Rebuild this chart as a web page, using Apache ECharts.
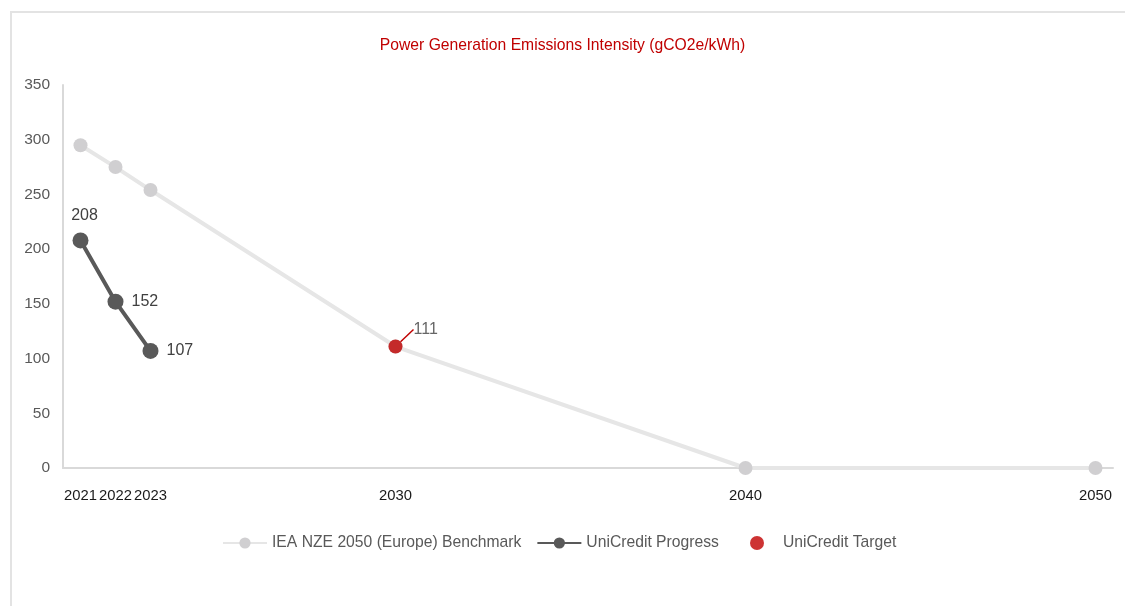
<!DOCTYPE html>
<html>
<head>
<meta charset="utf-8">
<script src="https://cdn.jsdelivr.net/npm/echarts@6/dist/echarts.min.js"></script>
<style>
  html, body { margin: 0; padding: 0; background: #fff; }
  .frame {
    position: absolute; left: 10px; top: 11px; width: 1115px; height: 595px;
    border-left: 2px solid #e3e3e3; border-top: 2px solid #e3e3e3;
  }
  #chart { position: absolute; left: 0; top: 0; width: 1125px; height: 606px; }
</style>
</head>
<body>
<div class="frame"></div>
<div id="chart"></div>
<script>
const benchYears = [2021, 2022, 2023, 2030, 2040, 2050]
const benchVals = [295, 275, 254, 111, 0, 0]
const progressYears = [2021, 2022, 2023]
const progressVals = [208, 152, 107]
const targetYears = [2030]
const targetVals = [111]
const xTickYears = [2021, 2022, 2023, 2030, 2040, 2050]

const font = 'Liberation Sans, Arial, sans-serif'
const chart = echarts.init(document.getElementById('chart'))

chart.setOption({
  animation: false,
  title: {
    text: 'Power Generation Emissions Intensity (gCO2e/kWh)',
    left: 'center',
    top: 33,
    textStyle: { color: '#c00000', fontFamily: font, fontSize: 15.7, fontWeight: 'normal' }
  },
  legend: [
    {
      data: ['IEA NZE 2050 (Europe) Benchmark', 'UniCredit Progress'],
      left: 217, top: 530,
      itemWidth: 44, itemHeight: 14, itemGap: 15,
      textStyle: { color: '#595959', fontFamily: font, fontSize: 15.7 }
    },
    {
      data: ['UniCredit Target'],
      left: 745, top: 530,
      icon: 'circle', itemWidth: 14, itemHeight: 14,
      textStyle: { color: '#595959', fontFamily: font, fontSize: 15.7, padding: [0, 0, 0, 14] }
    }
  ],
  grid: { left: 63, right: 12, top: 85, bottom: 138, containLabel: false },
  xAxis: {
    type: 'value',
    min: 2020.5, max: 2050.5,
    splitLine: { show: false },
    axisLine: { lineStyle: { color: '#d9d9d9', width: 2 } },
    axisTick: { show: false },
    axisLabel: {
      customValues: xTickYears,
      formatter: v => String(v),
      showMinLabel: true, showMaxLabel: true, hideOverlap: false,
      margin: 20,
      color: '#1a1a1a', fontFamily: font, fontSize: 14.8
    }
  },
  yAxis: {
    type: 'value',
    min: 0, max: 350, interval: 50,
    splitLine: { show: false },
    axisLine: { show: true, lineStyle: { color: '#d9d9d9', width: 2 } },
    axisTick: { show: false },
    axisLabel: { margin: 13, color: '#595959', fontFamily: font, fontSize: 15.5 }
  },
  series: [
    {
      name: 'IEA NZE 2050 (Europe) Benchmark',
      type: 'line',
      data: benchYears.map((y, i) => [y, benchVals[i]]),
      symbol: 'circle', symbolSize: 14,
      lineStyle: { color: '#e6e6e6', width: 4 },
      itemStyle: { color: '#d0cfd1' },
      z: 1
    },
    {
      name: 'UniCredit Progress',
      type: 'line',
      data: progressYears.map((y, i) => ({
        value: [y, progressVals[i]],
        label: i === 0
          ? { position: 'top', distance: 9, offset: [4, 0] }
          : { position: 'right', distance: 8 }
      })),
      symbol: 'circle', symbolSize: 16,
      lineStyle: { color: '#595959', width: 4 },
      itemStyle: { color: '#595959' },
      label: { show: true, color: '#404040', fontFamily: font, fontSize: 16, formatter: p => p.value[1] },
      z: 3
    },
    {
      name: 'UniCredit Target',
      type: 'scatter',
      data: targetYears.map((y, i) => [y, targetVals[i]]),
      symbol: 'circle', symbolSize: 14,
      itemStyle: { color: '#c00000' },
      label: {
        show: true, position: 'right', distance: 5,
        color: '#404040', fontFamily: font, fontSize: 16,
        formatter: p => p.value[1]
      },
      labelLayout: { dx: 6, dy: -17 },
      labelLine: { show: true, lineStyle: { color: '#c00000', width: 1.5 } },
      z: 4
    }
  ]
})
</script>
</body>
</html>
